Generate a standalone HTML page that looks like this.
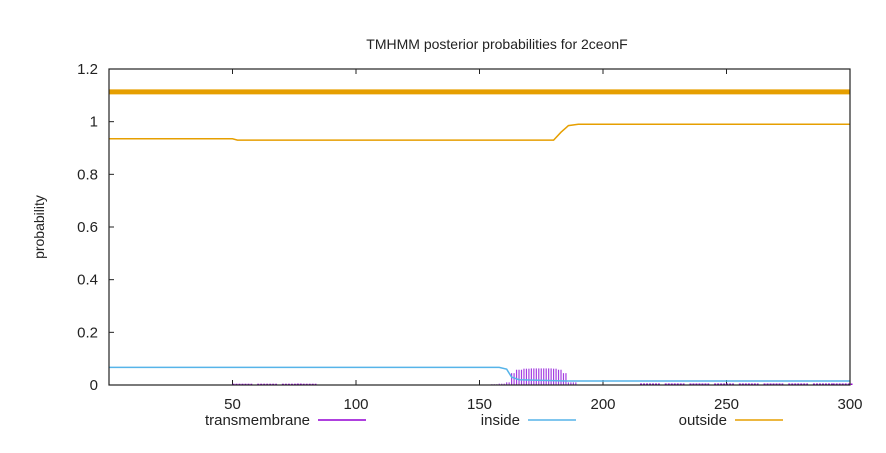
<!DOCTYPE html>
<html><head><meta charset="utf-8"><style>
body{margin:0;background:#fff;}
svg{display:block;font-family:"Liberation Sans",sans-serif;}
</style></head><body>
<svg id="c" width="886" height="453"></svg>
<script>
const xTicks=[50,100,150,200,250,300];
const yTicks=[0,0.2,0.4,0.6,0.8,1,1.2];
const outsidePos=[0,50,52,180,183,186,190,300];
const outsideVal=[0.935,0.935,0.93,0.93,0.96,0.985,0.99,0.99];
const insidePos=[0,158,161,163,166,185,300];
const insideVal=[0.067,0.067,0.06,0.03,0.02,0.015,0.015];
const tmPos=[155,158,161,163,165,168,171,174,177,180,182,184,186,190];
const tmVal=[0.003,0.005,0.01,0.045,0.058,0.062,0.063,0.063,0.063,0.062,0.058,0.045,0.01,0.003];
const lowTmPos=[50,60,70,76,215,225,235,245,255,265,275,285,293];
const lowTmVal=[0.002,0.002,0.002,0.002,0.003,0.003,0.003,0.003,0.003,0.003,0.003,0.003,0.003];
const thickVal=1.113;
const L=109,R=850,T=69,B=385;
const sx=v=>L+(v/300)*(R-L);
const sy=v=>B-(v/1.2)*(B-T);
const svg=document.getElementById('c');
const NS='http://www.w3.org/2000/svg';
function mk(tag,attrs,name){const e=document.createElementNS(NS,tag);for(const k in attrs)e.setAttribute(k,attrs[k]);


svg.appendChild(e);return e;}
function txt(x,y,s,anchor,name,extra){const e=mk('text',Object.assign({x:x,y:y,'font-size':15,'text-anchor':anchor,fill:'#222'},extra||{}),name);e.textContent=s;return e;}
txt(497,49,'TMHMM posterior probabilities for 2ceonF','middle','chart-title',{'font-size':14});
txt(44,227,'probability','middle','y-axis-title',{transform:'rotate(-90 44 227)','font-size':14});
yTicks.forEach(v=>{txt(L-11,sy(v)+5,String(v),'end','y-tick-label');
mk('line',{x1:L,x2:L+5,y1:sy(v),y2:sy(v),stroke:'#222'},'y-tick');});
xTicks.forEach(v=>{txt(sx(v),sy(0)+24,String(v),'middle','x-tick-label');
mk('line',{x1:sx(v),x2:sx(v),y1:B,y2:B-5,stroke:'#222'},'x-tick');
mk('line',{x1:sx(v),x2:sx(v),y1:T,y2:T+5,stroke:'#222'},'x-tick-top');});
mk('line',{x1:sx(0),x2:sx(300),y1:sy(thickVal),y2:sy(thickVal),stroke:'#e69f00','stroke-width':5},'outside-thick-line');
function poly(xs,ys,col,name){mk('polyline',{points:xs.map((x,i)=>sx(x)+','+sy(ys[i])).join(' '),fill:'none',stroke:col,'stroke-width':1.5},name);}
poly(outsidePos,outsideVal,'#e69f00','outside-series');
for(let i=0;i<tmPos.length-1;i++){
  for(let p=tmPos[i];p<tmPos[i+1];p+=1){
    mk('line',{x1:sx(p),x2:sx(p),y1:sy(0),y2:sy(tmVal[i]),stroke:'#a43ee0','stroke-width':1.2},'transmembrane-bar');
  }
}
poly(insidePos,insideVal,'#56b4e9','inside-series');
lowTmPos.forEach((p,i)=>mk('line',{x1:sx(p),x2:sx(p+8),y1:sy(lowTmVal[i]),y2:sy(lowTmVal[i]),stroke:'#9400d3','stroke-width':1.5,'stroke-dasharray':'2,1'},'transmembrane-low'));
mk('rect',{x:L,y:T,width:R-L,height:B-T,fill:'none',stroke:'#222','stroke-width':1.2},'plot-frame');
txt(310,425,'transmembrane','end','legend-label-transmembrane');
mk('line',{x1:318,x2:366,y1:420,y2:420,stroke:'#9400d3','stroke-width':1.5},'legend-line-transmembrane');
txt(520,425,'inside','end','legend-label-inside');
mk('line',{x1:528,x2:576,y1:420,y2:420,stroke:'#56b4e9','stroke-width':1.5},'legend-line-inside');
txt(727,425,'outside','end','legend-label-outside');
mk('line',{x1:735,x2:783,y1:420,y2:420,stroke:'#e69f00','stroke-width':1.5},'legend-line-outside');
</script>
</body></html>
